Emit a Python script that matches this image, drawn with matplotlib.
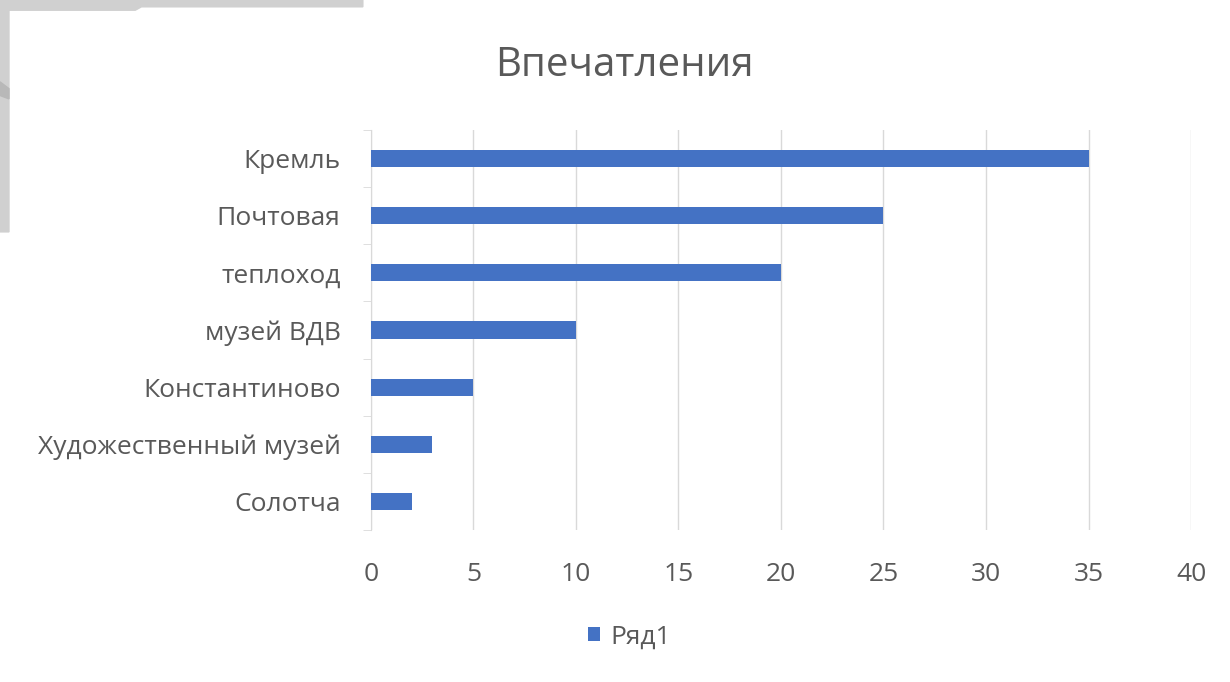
import matplotlib.pyplot as plt
from matplotlib.patches import Polygon

plt.rcParams['font.family'] = ['Open Sans', 'DejaVu Sans']

places = ['Кремль', 'Почтовая', 'теплоход', 'музей ВДВ', 'Константиново',
          'Художественный музей', 'Солотча']
votes = [35, 25, 20, 10, 5, 3, 2]
xticks = [0, 5, 10, 15, 20, 25, 30, 35, 40]

text_color = '#595959'
bar_color = '#4472c4'
grid_color = '#d9d9d9'

fig = plt.figure(figsize=(12.3, 6.82), dpi=100)
ax = fig.add_axes([0.3016, 0.2229, 0.6667, 0.5865])

ypos = list(range(len(places)))[::-1]
ax.barh(ypos, votes, height=0.3, color=bar_color, label='Ряд1', zorder=3)

ax.set_xlim(0, 40)
ax.set_ylim(-0.5, len(places) - 0.5)
ax.set_xticks(xticks)
ax.set_yticks(ypos)
ax.set_yticklabels(places)
ax.set_yticks([i - 0.5 for i in range(len(places) + 1)], minor=True)

ax.grid(axis='x', color=grid_color, linewidth=1, zorder=0)
for s in ['top', 'right', 'bottom']:
    ax.spines[s].set_visible(False)
ax.spines['left'].set_color(grid_color)
ax.tick_params(axis='x', length=0, labelsize=19, labelcolor=text_color, pad=23)
ax.tick_params(axis='y', which='major', length=0, labelsize=19, labelcolor=text_color, pad=22)
ax.tick_params(axis='y', which='minor', length=6, color=grid_color)

fig.text(0.508, 0.903, 'Впечатления', ha='center', va='center', fontsize=29, color=text_color)
fig.legend(loc='center', bbox_to_anchor=(0.512, 0.066), frameon=False, fontsize=19,
           labelcolor=text_color, handlelength=0.45, handleheight=0.45, handletextpad=0.4)

# slide decoration in the top-left corner
deco = '#d0d0d0'
fig.patches.append(Polygon([(0, 1), (0.295, 1), (0.295, 0.99), (0.115, 0.99), (0.11, 0.985),
                            (0.0073, 0.985), (0.0073, 0.66), (0, 0.66)],
                           closed=True, transform=fig.transFigure, color=deco, zorder=0))
fig.patches.append(Polygon([(0, 0.88), (0.0073, 0.87), (0.0073, 0.855), (0, 0.86)],
                           closed=True, transform=fig.transFigure, color='#b8b8b8', zorder=0))

fig.savefig('out.png', dpi=100, facecolor='white')
